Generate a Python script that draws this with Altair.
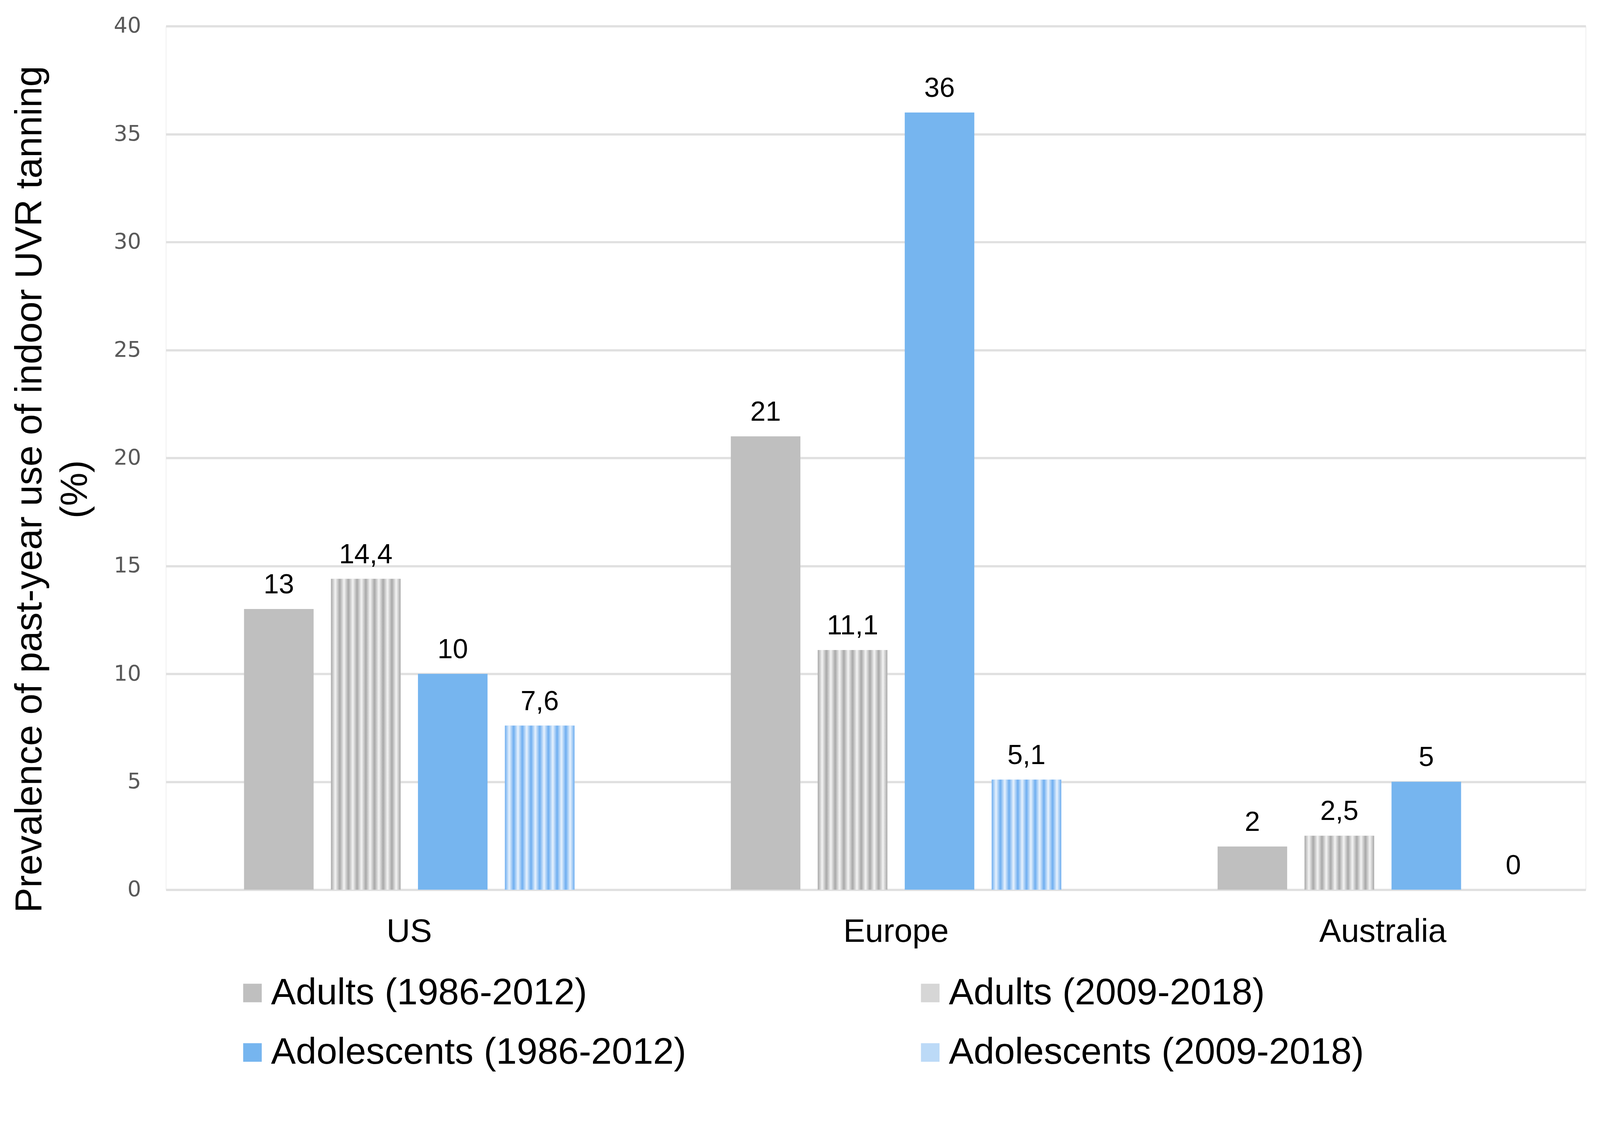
import altair as alt
import pandas as pd

regions = ["US", "Europe", "Australia"]
series = ["Adults (1986-2012)", "Adults (2009-2018)",
          "Adolescents (1986-2012)", "Adolescents (2009-2018)"]
adults_1986 = [13, 21, 2]
adults_2009 = [14.4, 11.1, 2.5]
adolescents_1986 = [10, 36, 5]
adolescents_2009 = [7.6, 5.1, 0]
y_ticks = [0, 5, 10, 15, 20, 25, 30, 35, 40]

colors = ["#bfbfbf", "#d6d6d6", "#76b5ef", "#bcdaf7"]

rows = []
for s, vals in zip(series, [adults_1986, adults_2009, adolescents_1986, adolescents_2009]):
    for r, v in zip(regions, vals):
        rows.append({"region": r, "series": s, "value": v,
                     "label": f"{v:g}".replace(".", ",")})
df = pd.DataFrame(rows)


def stripes(dark, light, n=8):
    stops = []
    for i in range(n):
        stops.append({"offset": i / n, "color": dark})
        stops.append({"offset": (i + 0.5) / n, "color": light})
    stops.append({"offset": 1, "color": dark})
    return {"gradient": "linear", "stops": stops, "x1": 0, "x2": 1, "y1": 0, "y2": 0}


FONT = "Liberation Sans"

x_enc = alt.X("region:N", sort=regions,
              scale=alt.Scale(paddingInner=0.2, paddingOuter=0.0584, align=0.856),
              axis=alt.Axis(title=None, labelAngle=0, domain=False, ticks=False,
                            labelFont=FONT, labelFontSize=88, labelColor="#000000",
                            labelPadding=70, labelLimit=3000, grid=False))
xo_enc = alt.XOffset("series:N", sort=series,
                     scale=alt.Scale(domain=series, paddingInner=0.2, paddingOuter=0.339))
y_enc = alt.Y("value:Q",
              scale=alt.Scale(domain=[0, 40], nice=False),
              axis=alt.Axis(values=y_ticks, title=["Prevalence of past-year use of indoor UVR tanning", "(%)"],
                            titleFont=FONT, titleFontSize=101, titleFontWeight="normal",
                            titleColor="#000000", titleAngle=270, titleAlign="center",
                            titleBaseline="alphabetic", titleX=-336, titleY=1246,
                            titleLineHeight=122,
                            labelFont="DejaVu Sans", labelFontSize=58, labelColor="#595959",
                            labelPadding=67, domain=False, ticks=False,
                            grid=True, gridColor="#e0e0e0", gridWidth=6))

base = alt.Chart(df)

bars = base.mark_bar().encode(
    x=x_enc, xOffset=xo_enc, y=y_enc,
    color=alt.Color("series:N", sort=series,
                    scale=alt.Scale(domain=series, range=colors),
                    legend=alt.Legend(title=None, orient="none", legendX=183, legendY=2552,
                                      direction="horizontal",
                                      columns=2, columnPadding=606, rowPadding=60,
                                      symbolType="square", symbolSize=2500,
                                      symbolStrokeWidth=0, labelFont=FONT,
                                      labelFontSize=100, labelColor="#000000",
                                      labelOffset=0, labelLimit=3000, padding=0)),
)

pat_adults = base.transform_filter(alt.datum.series == series[1]).mark_bar(
    fill=stripes("#a8a8a8", "#f4f4f4")).encode(x=x_enc, xOffset=xo_enc, y=y_enc)
pat_adol = base.transform_filter(alt.datum.series == series[3]).mark_bar(
    fill=stripes("#6eaef0", "#e8f2fd")).encode(x=x_enc, xOffset=xo_enc, y=y_enc)

labels = base.mark_text(font=FONT, fontSize=74, color="#000000", baseline="alphabetic",
                        align="center", dy=-42).encode(
    x=x_enc, xOffset=xo_enc, y=y_enc, text="label:N")

chart = alt.layer(bars, pat_adults, pat_adol, labels).properties(
    width=3821, height=2324,
    autosize=alt.AutoSizeParams(type="none"),
    padding={"left": 438, "top": -12, "right": 30, "bottom": 572},
).configure_view(stroke=None).configure(background="#ffffff")

chart.save("out.html", embed_options={"renderer": "svg", "actions": False})
